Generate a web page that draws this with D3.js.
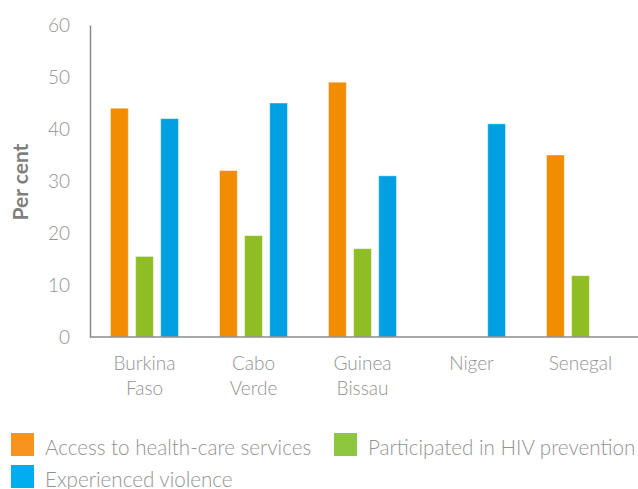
<!DOCTYPE html>
<html>
<head>
<meta charset="utf-8">
<script src="https://cdn.jsdelivr.net/npm/d3@7"></script>
<style>
  html, body { margin: 0; padding: 0; background: #fff; }
  svg { display: block; }
  text { font-family: Lato, "Open Sans", sans-serif; fill: #8c8c8c; }
</style>
</head>
<body>
<svg id="chart" width="638" height="489"></svg>
<script>
const categories = [["Burkina", "Faso"], ["Cabo", "Verde"], ["Guinea", "Bissau"], ["Niger"], ["Senegal"]];
const seriesNames = ["Access to health-care services", "Participated in HIV prevention", "Experienced violence"];
const accessValues = [44, 32, 49, null, 35];
const hivValues = [15.5, 19.5, 17, null, 11.8];
const violenceValues = [42, 45, 31, 41, null];
const yTicks = [0, 10, 20, 30, 40, 50, 60];
const colors = ["#f28c00", "#8fbe24", "#00a0e2"];
const legendColors = ["#f7941d", "#8dc63f", "#00aeef"];

const series = [accessValues, hivValues, violenceValues];
const svg = d3.select("#chart");
const margin = { left: 90, top: 25, right: 3, bottom: 152 };
const W = 638, H = 489;
const textColor = "#939393";

const x0 = d3.scaleBand()
  .domain(categories.map((d, i) => i))
  .range([margin.left, W - margin.right])
  .paddingInner(0.376)
  .paddingOuter(0.188);
const x1 = d3.scaleBand()
  .domain(series.map((d, i) => i))
  .range([0, x0.bandwidth()])
  .paddingInner(0.29);
const y = d3.scaleLinear().domain([0, 60]).range([H - margin.bottom, margin.top]);

// bars
categories.forEach((c, ci) => {
  const g = svg.append("g").attr("transform", `translate(${x0(ci)},0)`);
  series.forEach((s, si) => {
    const v = s[ci];
    if (v == null) return;
    g.append("rect")
      .attr("x", x1(si))
      .attr("y", y(v))
      .attr("width", x1.bandwidth())
      .attr("height", y(0) - y(v))
      .attr("fill", colors[si])
      .attr("stroke", "rgba(255,255,255,0.45)")
      .attr("stroke-width", 1);
  });
});

// y axis
const yAxis = d3.axisLeft(y).tickValues(yTicks).tickSize(0).tickPadding(20);
const gy = svg.append("g").attr("transform", `translate(${margin.left},0)`).call(yAxis);
gy.select(".domain").attr("stroke", "#8c8c8c").attr("stroke-width", 1.5);
gy.selectAll("text").style("font-size", "19px").style("fill", textColor)
  .style("font-family", "Lato, sans-serif").style("font-weight", "300");

// x axis
const xAxis = d3.axisBottom(x0).tickSize(0).tickFormat(() => "");
const gx = svg.append("g").attr("transform", `translate(0,${y(0)})`).call(xAxis);
gx.select(".domain").attr("stroke", "#8c8c8c").attr("stroke-width", 1.5)
  .attr("d", `M${margin.left},0H${W}`);
gx.selectAll(".tick").each(function(d) {
  const t = d3.select(this).select("text").text(null)
    .attr("y", 0).attr("dy", null)
    .style("font-size", "19px").style("fill", textColor).style("font-weight", "300")
    .attr("text-anchor", "middle");
  categories[d].forEach((line, li) => {
    t.append("tspan").attr("x", 0).attr("y", 33 + li * 25).text(line);
  });
});

// y title
svg.append("text")
  .attr("transform", `translate(28,${y(30) + 1}) rotate(-90)`)
  .attr("text-anchor", "middle")
  .style("font-size", "21px").style("font-weight", "bold").style("fill", "#7f7f7f")
  .text("Per cent");

// legend
const legendPos = [[11, 433], [334, 433], [11, 465]];
seriesNames.forEach((name, i) => {
  const g = svg.append("g").attr("transform", `translate(${legendPos[i][0]},${legendPos[i][1]})`);
  g.append("rect").attr("width", 23).attr("height", 23).attr("fill", legendColors[i]);
  g.append("text").attr("x", 34).attr("y", 22).style("font-size", "20.6px")
    .style("fill", textColor).style("font-weight", "300").text(name);
});
</script>
</body>
</html>
